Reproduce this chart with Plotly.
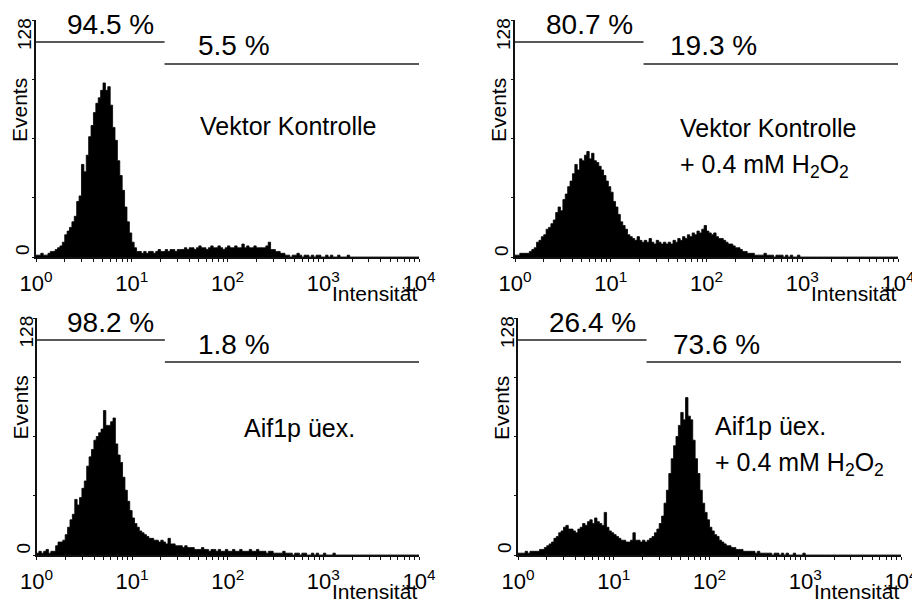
import plotly.graph_objects as go

# ---------------- data ----------------
BIN_W = 0.025          # decades per channel
N_BINS = 160           # 4 decades
GATE = 22              # gate boundary (Intensität)

panels = ["Vektor Kontrolle", "Vektor Kontrolle + 0.4 mM H2O2",
          "Aif1p üex.", "Aif1p üex. + 0.4 mM H2O2"]
pct_left = ["94.5 %", "80.7 %", "98.2 %", "26.4 %"]
pct_right = ["5.5 %", "19.3 %", "1.8 %", "73.6 %"]

vk_ctrl = [1, 1, 2, 1, 1, 2,
           3, 3, 4, 5, 6, 8,
           12, 14, 16, 19, 22, 30, 33,
           50, 46, 55, 65, 71, 78, 83, 86, 90, 94,
           90, 92, 82, 70, 63, 52, 44, 36, 27, 19, 13, 8, 5, 3,
           3, 2, 3, 2, 3, 3, 2, 3, 4, 3, 3, 4, 3, 4, 4, 3, 4, 4,
           4, 5, 4, 5, 5, 4, 5, 6, 5, 5, 4, 5, 6, 5, 5, 6, 5, 4, 5, 6,
           5, 5, 6, 5, 5, 7, 5, 6, 5, 5, 6, 5, 5, 5, 5, 6, 8, 4, 4, 3,
           3, 2, 2,
           1, 1, 0, 1, 1, 2, 1, 0, 1, 1, 0, 1, 0, 1, 1, 0, 0, 1, 0, 1,
           0, 0, 1, 0, 0, 0, 1]

vk_h2o2 = [1, 1, 2, 2, 2, 2,
           3, 4, 5, 8, 9, 11, 12, 15, 16, 18, 20, 24, 27,
           25, 31, 34, 38, 41, 45, 50, 47, 53, 52, 55, 57,
           53, 56, 52, 51, 49, 47, 44, 41, 38, 35, 30, 27, 23, 19, 17, 15, 12, 11,
           10, 9, 11, 9, 8, 9, 8, 10, 8, 7, 9, 8, 7, 8,
           7, 8, 7, 9, 8, 10, 9, 11,
           10, 12, 11, 13, 12, 14, 13, 15, 17, 14,
           13, 12, 13, 11, 10, 10, 9, 8, 7, 7,
           6, 5, 5, 4, 3, 3, 2, 2, 2, 1,
           1, 1, 1, 2, 1, 1, 1, 0, 1, 1, 1, 0, 1, 0, 1, 0, 0, 1, 0, 0]

aif = [1, 2, 1, 2, 3, 1, 2, 2,
       5, 7, 7, 8, 11, 15, 19, 22, 30, 27, 31, 36, 40,
       48, 53, 57, 62, 64, 66, 68, 78, 70, 70, 72, 74,
       60, 54, 50, 42, 35, 29, 24, 20, 17, 15, 13, 12, 11, 10,
       9, 9, 8, 8, 7, 8,
       7, 6, 9, 6, 6, 5,
       5, 5, 4, 5, 4, 4, 4, 3,
       3, 3, 4, 3, 3, 2, 3, 3, 2, 3, 2, 2, 3, 2, 2, 3, 2, 2, 3, 2,
       2, 2, 3, 2, 2, 3, 2, 2, 2, 1, 2, 2, 1, 1,
       1, 1, 2, 1, 1, 1, 0, 1, 1, 0, 1, 1, 0, 0, 1, 0, 1, 0, 0, 1,
       0, 0, 0, 1, 0, 0, 0, 0, 0, 0]

aif_h2o2 = [1, 1, 1, 2, 1, 2, 2, 2,
            2, 3, 3, 4, 5, 6, 7, 9, 10, 12, 13, 15, 16,
            14, 14, 13, 12, 14, 15, 17, 16, 18, 19, 17, 20, 18, 17, 16,
            23, 15, 13, 12, 11, 10, 9, 8, 8, 7, 7, 8,
            12, 8, 8, 7, 8, 7, 8, 9, 10, 12, 14, 17, 21,
            28, 35, 44, 52, 59, 64, 70, 77, 73, 85, 75, 73,
            62, 52, 44, 35, 28, 23, 19, 15, 13, 11, 10, 8, 7, 6, 5, 5, 4, 4,
            3, 3, 3, 2, 2, 2, 2, 2, 1, 2,
            1, 1, 1, 1, 1, 0, 1, 1, 0, 1, 0, 1, 0, 0, 1, 0, 0, 0, 1, 0]

series = [vk_ctrl, vk_h2o2, aif, aif_h2o2]

x_tickvals = [1, 10, 100, 1000, 10000]
x_ticktext = ["10<sup>0</sup>", "10<sup>1</sup>", "10<sup>2</sup>",
              "10<sup>3</sup>", "10<sup>4</sup>"]
minor_mult = [2, 3, 4, 5, 6, 7, 8, 9]
y_tickvals = [0, 32, 64, 96, 128]

# ---------------- layout helpers ----------------
W, H = 912, 603
FONT = "Liberation Sans, Arial, Helvetica, sans-serif"


def px(x):
    return x / W


def py(y):
    return 1 - y / H


def label(text, x, y, size, angle=0, xanchor="center"):
    fig.add_annotation(x=px(x), y=py(y), xref="paper", yref="paper",
                       text=text, textangle=angle, showarrow=False,
                       xanchor=xanchor, yanchor="middle",
                       font=dict(family=FONT, size=size, color="black"))


# pixel boxes: (left, right, top, bottom)
boxes = [(36, 419, 20, 257), (515, 898, 20, 257),
         (36.5, 419, 318, 555), (518, 901, 318, 555)]

fig = go.Figure()
edges = [10 ** (i * BIN_W) for i in range(N_BINS + 1)]
minor_vals = [d * m for d in [1, 10, 100, 1000] for m in minor_mult]

for k, vals in enumerate(series):
    vals = list(vals) + [0] * (N_BINS - len(vals))
    xa = "x" if k == 0 else f"x{k+1}"
    ya = "y" if k == 0 else f"y{k+1}"
    fig.add_trace(go.Scatter(
        x=edges, y=vals + [vals[-1]], mode="lines", line_shape="hv",
        line=dict(color="black", width=0.8), fill="tozeroy",
        fillcolor="black", xaxis=xa, yaxis=ya, showlegend=False,
        hoverinfo="skip"))
    l, r, t, b = boxes[k]
    sfx = "" if k == 0 else str(k + 1)
    fig.layout["xaxis" + sfx] = dict(
        type="log", range=[0, 4], domain=[px(l), px(r)], anchor=ya,
        automargin=False, ticklabeloverflow="allow", ticklabelstandoff=3,
        showline=True, linecolor="#111", linewidth=1.6, showgrid=False,
        zeroline=False, ticks="outside", ticklen=3, tickwidth=1.2,
        tickcolor="#111", tickvals=x_tickvals, ticktext=x_ticktext,
        tickfont=dict(family=FONT, size=22, color="black"),
        minor=dict(tickvals=minor_vals, ticks="outside", ticklen=3,
                   tickwidth=1, tickcolor="#111"),
        fixedrange=True)
    fig.layout["yaxis" + sfx] = dict(
        range=[0, 128], domain=[py(b), py(t)], anchor=xa,
        automargin=False,
        showline=True, linecolor="#111", linewidth=1.6, showgrid=False,
        zeroline=False, ticks="outside", ticklen=2, tickwidth=1,
        tickcolor="#111", tickvals=y_tickvals, showticklabels=False,
        fixedrange=True)

    # gate lines
    gy_l = 128 * (b - (t + 22)) / (b - t)
    gy_r = 128 * (b - (t + 44)) / (b - t)
    fig.add_shape(type="line", xref=xa, yref=ya, x0=1, x1=GATE, y0=gy_l,
                  y1=gy_l, line=dict(color="#222", width=1.6))
    fig.add_shape(type="line", xref=xa, yref=ya, x0=GATE, x1=10000,
                  y0=gy_r, y1=gy_r, line=dict(color="#222", width=1.6))

    label(pct_left[k], l + 74, t + 4, 28)
    label(pct_right[k], l + 198, t + 26, 28)
    label("128", l - 11, t + 14, 19, angle=-90)
    label("0", l - 14, b - 7, 19, angle=-90)
    label("Events", l - 17, t + 90, 21, angle=-90)
    label("Intensität", r, b + 36, 21, xanchor="right")

# condition labels
label("Vektor Kontrolle", 288, 126, 25)
label("Vektor Kontrolle", 678, 128, 25, xanchor="left")
label("+ 0.4 mM H<sub>2</sub>O<sub>2</sub>", 678, 166, 25, xanchor="left")
label("Aif1p üex.", 299, 428, 25)
label("Aif1p üex.", 713, 426, 25, xanchor="left")
label("+ 0.4 mM H<sub>2</sub>O<sub>2</sub>", 713, 464, 25, xanchor="left")

fig.update_layout(width=W, height=H,
                  margin=dict(l=0, r=0, t=0, b=0, autoexpand=False),
                  paper_bgcolor="white", plot_bgcolor="white",
                  font=dict(family=FONT, color="black"), showlegend=False)

fig.write_html("out.html", config={"displayModeBar": False},
               post_script="document.body.style.margin='0px';")
